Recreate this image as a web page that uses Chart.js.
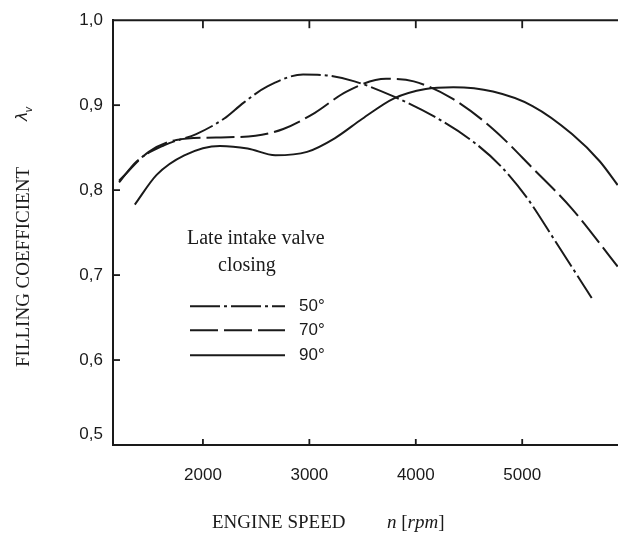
<!DOCTYPE html>
<html><head><meta charset="utf-8">
<script src="https://cdn.jsdelivr.net/npm/chart.js@4"></script>
<style>html,body{margin:0;padding:0;background:#fff}#wrap{width:618px;height:539px;position:relative}</style>
</head><body><div id="wrap"><canvas id="c" width="618" height="539"></canvas></div>
<script>
// ---- data ----
const seriesNames = ['50°', '70°', '90°'];
const rpm50 = [1212, 1379, 1639, 1937, 2197, 2383, 2606, 2941, 3164, 3424, 3796, 4167, 4539, 4800, 5050, 5300, 5653];
const val50 = [0.809, 0.834, 0.853, 0.866, 0.884, 0.903, 0.922, 0.936, 0.935, 0.928, 0.910, 0.887, 0.857, 0.828, 0.790, 0.742, 0.673];
const rpm70 = [1212, 1491, 1751, 2123, 2494, 2755, 3052, 3349, 3721, 3981, 4353, 4725, 5097, 5468, 5897];
const val70 = [0.811, 0.845, 0.859, 0.862, 0.864, 0.872, 0.891, 0.916, 0.931, 0.928, 0.907, 0.872, 0.826, 0.778, 0.710];
const rpm90 = [1360, 1565, 1825, 2160, 2420, 2680, 2978, 3238, 3498, 3796, 4093, 4353, 4725, 5097, 5468, 5728, 5897];
const val90 = [0.783, 0.818, 0.841, 0.852, 0.849, 0.841, 0.845, 0.861, 0.884, 0.908, 0.919, 0.921, 0.916, 0.899, 0.866, 0.834, 0.806];
const xTicks = [2000, 3000, 4000, 5000];
const yTicks = [0.5, 0.6, 0.7, 0.8, 0.9, 1.0];
const xTitle = 'ENGINE SPEED';
const yTitle = 'FILLING COEFFICIENT';
const legendTitle = ['Late intake valve', 'closing'];

const INK = '#1a1a1a';
const dashes = [[30, 4, 3, 4], [28, 6], []];

function pts(xs, ys) { return xs.map((v, i) => ({ x: v, y: ys[i] })); }

const decor = {
  id: 'decor',
  afterDraw(chart) {
    const { ctx, chartArea: a, scales: { x, y } } = chart;
    ctx.save();
    ctx.strokeStyle = INK; ctx.fillStyle = INK;
    const line = (x1, y1, x2, y2) => { ctx.beginPath(); ctx.moveTo(x1, y1); ctx.lineTo(x2, y2); ctx.stroke(); };
    // top frame line
    ctx.lineWidth = 2;
    line(a.left - 1, a.top, a.right, a.top);
    // inner tick marks
    ctx.lineWidth = 1.8;
    xTicks.forEach(v => {
      const px = x.getPixelForValue(v);
      line(px, a.bottom, px, a.bottom - 6);
      line(px, a.top, px, a.top + 8);
    });
    yTicks.forEach(v => {
      if (v > 0.5 && v < 1.0) { const py = y.getPixelForValue(v); line(a.left, py, a.left + 7, py); }
    });
    // legend
    ctx.textBaseline = 'middle';
    ctx.textAlign = 'left';
    ctx.font = '20px "Liberation Serif", "Times New Roman", serif';
    ctx.fillText(legendTitle[0], a.left + 74, a.top + 219);
    ctx.fillText(legendTitle[1], a.left + 105, a.top + 246);
    const rows = [286, 310, 335];
    seriesNames.forEach((n, i) => {
      const yy = a.top + rows[i];
      ctx.lineWidth = 2;
      ctx.setLineDash(dashes[i]);
      line(a.left + 77, yy, a.left + 172, yy);
      ctx.setLineDash([]);
      ctx.font = '17px "Liberation Sans", Arial, sans-serif';
      ctx.fillText(n, a.left + 186, yy);
    });
    // x title
    const cy = 523;
    let cx = 212;
    const serif = '"Liberation Serif", "Times New Roman", serif';
    ctx.font = '19px ' + serif;
    ctx.fillText(xTitle, cx, cy);
    cx = 387;
    const parts = [['n', 'italic '], [' [', ''], ['rpm', 'italic '], [']', '']];
    parts.forEach(([t, st]) => {
      ctx.font = st + '19px ' + serif;
      ctx.fillText(t, cx, cy);
      cx += ctx.measureText(t).width;
    });
    // y title (rotated)
    ctx.save();
    ctx.translate(24, 267);
    ctx.rotate(-Math.PI / 2);
    ctx.textAlign = 'center';
    ctx.font = '19px ' + serif;
    ctx.fillText(yTitle, 0, 0);
    ctx.restore();
    ctx.save();
    ctx.translate(24, 121);
    ctx.rotate(-Math.PI / 2);
    ctx.textAlign = 'left';
    ctx.font = 'italic 16px "DejaVu Sans", sans-serif';
    ctx.fillText('λ', 0, -1);
    const lw = ctx.measureText('λ').width;
    ctx.font = 'italic 10px "DejaVu Sans", sans-serif';
    ctx.fillText('v', lw - 1, 5);
    ctx.restore();
    ctx.restore();
  }
};

new Chart(document.getElementById('c'), {
  type: 'line',
  data: {
    datasets: [
      { label: seriesNames[0], data: pts(rpm50, val50), borderDash: dashes[0] },
      { label: seriesNames[1], data: pts(rpm70, val70), borderDash: dashes[1] },
      { label: seriesNames[2], data: pts(rpm90, val90), borderDash: dashes[2] }
    ].map(d => Object.assign(d, { borderColor: INK, borderWidth: 2, pointRadius: 0, fill: false, cubicInterpolationMode: 'monotone' }))
  },
  options: {
    responsive: false,
    animation: false,
    devicePixelRatio: 1,
    layout: { padding: { top: 16, right: 0, left: 0, bottom: 0 } },
    plugins: { legend: { display: false }, tooltip: { enabled: false } },
    scales: {
      x: {
        type: 'linear', min: 1155, max: 5900,
        afterBuildTicks: s => { s.ticks = xTicks.map(v => ({ value: v })); },
        afterFit: s => { s.height = 94; },
        grid: { display: false, drawTicks: false },
        border: { display: true, color: INK, width: 2 },
        ticks: { color: INK, padding: 20, font: { family: '"Liberation Sans", Arial, sans-serif', size: 17 }, callback: v => String(v) }
      },
      y: {
        type: 'linear', min: 0.5, max: 1.0,
        afterBuildTicks: s => { s.ticks = yTicks.map(v => ({ value: v })); },
        afterFit: s => { s.width = 113; },
        grid: { display: false, drawTicks: false },
        border: { display: true, color: INK, width: 2 },
        ticks: {
          color: INK, padding: 10, font: { family: '"Liberation Sans", Arial, sans-serif', size: 17 },
          callback: v => { const t = v.toFixed(1).replace('.', ','); return Math.abs(v - 0.5) < 1e-6 ? [t, ''] : t; }
        }
      }
    }
  },
  plugins: [decor]
});
</script></body></html>
